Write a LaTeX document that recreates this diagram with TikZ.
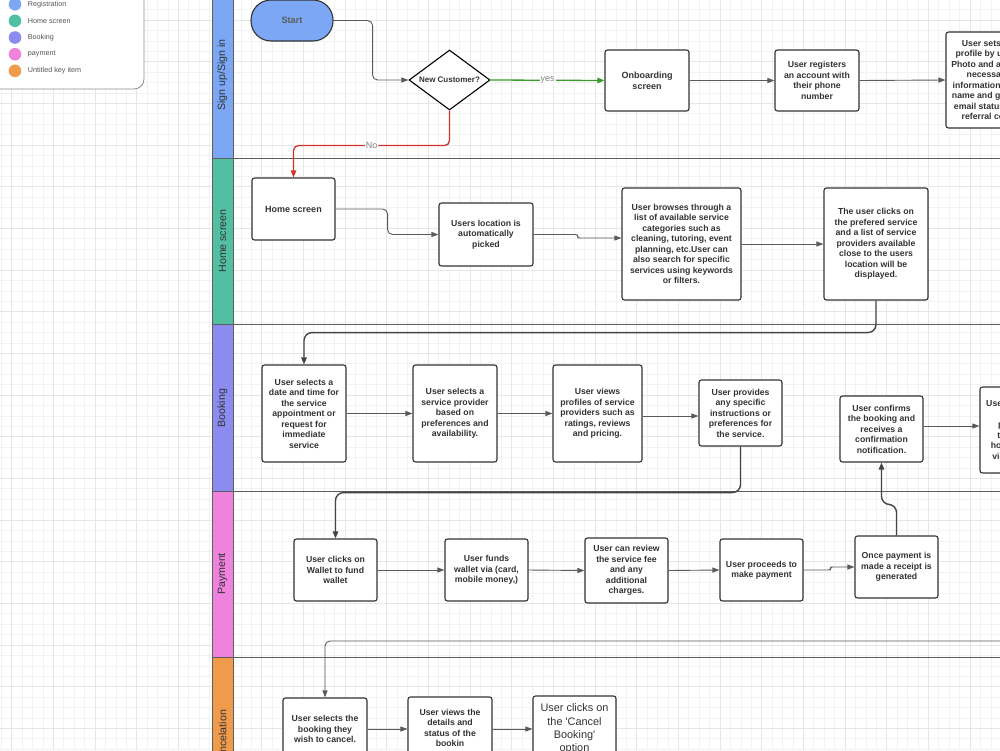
\documentclass[tikz,border=0pt]{standalone}
\usepackage{fontspec}
\setmainfont{Liberation Sans}
\usetikzlibrary{arrows.meta,shapes.geometric,calc}
\definecolor{regblue}{HTML}{7BA7F4}
\definecolor{hometeal}{HTML}{52BFA2}
\definecolor{bookpurple}{HTML}{8C8CF0}
\definecolor{paypink}{HTML}{EE82DD}
\definecolor{cancelorange}{HTML}{F09A4B}
\definecolor{gridminor}{HTML}{F2F2F2}
\definecolor{gridmajor}{HTML}{E6E6E6}
\definecolor{boxborder}{HTML}{333333}
\definecolor{textgray}{HTML}{333333}
\definecolor{conngray}{HTML}{5A5A5A}
\definecolor{conndarkgray}{HTML}{444444}
\definecolor{lanegray}{HTML}{5E5E5E}
\definecolor{lblgray}{HTML}{808080}
\definecolor{yesgreen}{HTML}{3A9A2A}
\definecolor{nored}{HTML}{D0332A}
\definecolor{legendgray}{HTML}{555555}
\newcommand\bxfont{\fontsize{8.7}{10.5}\selectfont\bfseries}
\tikzset{
  box/.style={draw=boxborder, fill=white, rounded corners=2.5pt, line width=1.1pt,
    align=center, font=\bxfont, text=textgray, inner sep=1pt},
  startnode/.style={draw=boxborder, fill=regblue, rounded corners=20pt, line width=1.1pt,
    minimum width=82pt, minimum height=41pt, font=\fontsize{9.2}{11}\selectfont\bfseries, text=textgray!80},
  decision/.style={diamond, shape aspect=1.35, draw=black, fill=white, line width=1.1pt, inner sep=0pt,
    minimum width=81pt, minimum height=60pt, font=\fontsize{8}{10}\selectfont\bfseries, text=textgray},
  conn/.style={draw=conngray, line width=0.9pt, rounded corners=5pt,
    -{Triangle[length=7pt,width=5pt]}},
  conndark/.style={draw=conndarkgray, line width=1.4pt, rounded corners=8pt,
    -{Triangle[length=7pt,width=5.5pt]}},
  yesconn/.style={draw=yesgreen, line width=1.3pt, -{Triangle[length=7pt,width=5.5pt]}},
  noconn/.style={draw=nored, line width=1.3pt, rounded corners=5pt, -{Triangle[length=7pt,width=5.5pt]}},
  lbl/.style={fill=white, inner sep=1pt, text=lblgray, font=\fontsize{9}{10}\selectfont},
  lanelbl/.style={rotate=90, text=textgray, font=\fontsize{10.6}{12}\selectfont},
  lanestrip/.style={draw=lanegray, line width=0.8pt},
  laneline/.style={draw=lanegray, line width=1pt},
  legendtext/.style={anchor=west, text=legendgray, font=\fontsize{7.2}{8}\selectfont, inner sep=0pt},
  legenddot/.style={circle, minimum size=12.6pt, inner sep=0pt},
}
\begin{document}
\begin{tikzpicture}[x=1pt,y=-1pt]
\useasboundingbox (0,0) rectangle (1000,750);
\clip (0,0) rectangle (1000,750);
\fill[white] (0,0) rectangle (1000,750);
% grid
\foreach \i in {0,...,96} { \draw[gridminor, line width=0.6pt] ({1.25+\i*10.4167},0) -- ++(0,750); }
\foreach \i in {0,...,72} { \draw[gridminor, line width=0.6pt] (0,{9.58+\i*10.4167}) -- ++(1000,0); }
\foreach \i in {0,...,24} { \draw[gridmajor, line width=0.8pt] ({11.67+\i*41.667},0) -- ++(0,750); }
\foreach \i in {0,...,18} { \draw[gridmajor, line width=0.8pt] (0,{20+\i*41.667}) -- ++(1000,0); }

% legend
\draw[fill=white, draw=lanegray!70, line width=0.8pt, rounded corners=10pt] (-15,-15) rectangle (144,89);
\node[legenddot, fill=regblue] (k1) at (15,4.3) {};
\node[legendtext] (t1) at (27.7,4.3) {Registration};
\node[legenddot, fill=hometeal] (k2) at (15,20.8) {};
\node[legendtext] (t2) at (27.7,20.8) {Home screen};
\node[legenddot, fill=bookpurple] (k3) at (15,37.5) {};
\node[legendtext] (t3) at (27.7,37.5) {Booking};
\node[legenddot, fill=paypink] (k4) at (15,54.2) {};
\node[legendtext] (t4) at (27.7,54.2) {payment};
\node[legenddot, fill=cancelorange] (k5) at (15,70.8) {};
\node[legendtext] (t5) at (27.7,70.8) {Untitled key item};

% lanes
\draw[laneline] (212,158) -- (1005,158);
\draw[laneline] (212,324) -- (1005,324);
\draw[laneline] (212,491) -- (1005,491);
\draw[laneline] (212,657) -- (1005,657);
\draw[lanestrip, fill=regblue] (212,-5) rectangle (233,158);
\draw[lanestrip, fill=hometeal] (212,158) rectangle (233,324);
\draw[lanestrip, fill=bookpurple] (212,324) rectangle (233,491);
\draw[lanestrip, fill=paypink] (212,491) rectangle (233,657);
\draw[lanestrip, fill=cancelorange] (212,657) rectangle (233,760);
\node[lanelbl] (l1) at (222.5,75) {Sign up/Sign in};
\node[lanelbl] (l2) at (222.5,241) {Home screen};
\node[lanelbl] (l3) at (222.5,408) {Booking};
\node[lanelbl] (l4) at (222.5,574) {Payment};
\node[lanelbl] (l5) at (222.5,738) {Cancelation};

% sign up lane
\node[startnode] (start) at (292,20.5) {Start};
\node[decision] (nc) at (449.5,80) {New Customer?};
\node[box, minimum width=84pt, minimum height=61pt, font=\fontsize{9}{10.8}\selectfont\bfseries] (onb) at (647,80.5) {Onboarding\\screen};
\node[box, minimum width=84pt, minimum height=61pt] (reg) at (817,80.5) {User registers\\an account with\\their phone\\number};
\node[box, minimum width=84pt, minimum height=96pt] (prof) at (988,80) {User sets up\\profile by using\\Photo and adding\\necessary\\information such\\name and gender\\email status and\\referral code};

% home lane
\node[box, minimum width=83pt, minimum height=62pt, font=\fontsize{9}{10.8}\selectfont\bfseries] (home) at (293.5,209) {Home screen};
\node[box, minimum width=94pt, minimum height=63pt] (loc) at (486,234.5) {Users location is\\automatically\\picked};
\node[box, minimum width=119pt, minimum height=112pt] (browse) at (681.5,244) {User browses through a\\list of available service\\categories such as\\cleaning, tutoring, event\\planning, etc.User can\\also search for specific\\services using keywords\\or filters.};
\node[box, minimum width=104pt, minimum height=112pt] (clicks) at (876,244) {The user clicks on\\the prefered service\\and a list of service\\providers available\\close to the users\\location will be\\displayed.};

% booking lane
\node[box, minimum width=84pt, minimum height=97pt] (date) at (304,413.5) {User selects a\\date and time for\\the service\\appointment or\\request for\\immediate\\service};
\node[box, minimum width=84pt, minimum height=97pt] (prov) at (455,413.5) {User selects a\\service provider\\based on\\preferences and\\availability.};
\node[box, minimum width=89pt, minimum height=97pt] (views) at (597.5,413.5) {User views\\profiles of service\\providers such as\\ratings, reviews\\and pricing.};
\node[box, minimum width=83pt, minimum height=66pt] (instr) at (740.5,413) {User provides\\any specific\\instructions or\\preferences for\\the service.};
\node[box, minimum width=83pt, minimum height=66pt] (confirm) at (881.5,429) {User confirms\\the booking and\\receives a\\confirmation\\notification.};
\node[box, minimum width=84pt, minimum height=86pt] (track) at (1022,430) {User can monitor\\the\\progress of\\the booking\\how long it will\\view its status};

% payment lane
\node[box, minimum width=83pt, minimum height=62pt] (wallet) at (335.5,570) {User clicks on\\Wallet to fund\\wallet};
\node[box, minimum width=83pt, minimum height=62pt] (fund) at (486.5,570) {User funds\\wallet via (card,\\mobile money,)};
\node[box, minimum width=83pt, minimum height=65pt] (review) at (626.5,570.5) {User can review\\the service fee\\and any\\additional\\charges.};
\node[box, minimum width=83pt, minimum height=62pt] (proceed) at (761.5,570) {User proceeds to\\make payment};
\node[box, minimum width=83pt, minimum height=62pt] (receipt) at (896.5,567) {Once payment is\\made a receipt is\\generated};

% cancellation lane
\node[box, minimum width=84pt, minimum height=62pt] (csel) at (325,729) {User selects the\\booking they\\wish to cancel.};
\node[box, minimum width=84pt, minimum height=62pt] (cview) at (450,728) {User views the\\details and\\status of the\\bookin};
\node[box, minimum width=83pt, minimum height=66pt, font=\fontsize{10.9}{13.3}\selectfont] (cbtn) at (574.5,729) {User clicks on\\the \textquotesingle Cancel\\Booking\textquotesingle\\option};

% connectors
\draw[conn] (start.east) -- ++(39,0) |- (nc.west);
\draw[yesconn] (nc.east) -- node[lbl]{yes} (onb.west);
\draw[noconn] (nc.south) -- ++(0,35) -| node[lbl,pos=0.25]{No} (home.north);
\draw[conn] (onb.east) -- (reg.west);
\draw[conn] (reg.east) -- (prof.west);

\draw[conn] (home.east) -- ++(52,0) |- (loc.west);
\draw[conn, rounded corners=2pt] (loc.east) -- ++(44,0) |- ([yshift=6pt]browse.west);
\draw[conn] (browse.east) -- (clicks.west);
\draw[conndark] (clicks.south) -- ++(0,32) -| (date.north);

\draw[conn] (date.east) -- (prov.west);
\draw[conn] (prov.east) -- (views.west);
\draw[conn] ([yshift=-2.5pt]views.east) -- ([yshift=-2.5pt]views.east -| instr.west);
\draw[conndark] (instr.south) -- ++(0,46) -| (wallet.north);
\draw[conn] ([yshift=3pt]confirm.east) -- ([yshift=3pt]confirm.east -| track.west);

\draw[conn] (wallet.east) -- (fund.west);
\draw[conn] (fund.east) -- (review.west);
\draw[conn] (review.east) -- (proceed.west);
\draw[conn, rounded corners=2pt] (proceed.east) -- ++(27,0) |- (receipt.west);
\draw[conndark] (receipt.north) -- ++(0,-31) -| (confirm.south);

\coordinate (offR) at (1010,641);
\draw[conn] (offR) -| (csel.north);
\draw[conn] (csel.east) -- (cview.west |- csel.east);
\draw[conn] (cview.east |- csel.east) -- (cbtn.west);
\end{tikzpicture}
\end{document}
